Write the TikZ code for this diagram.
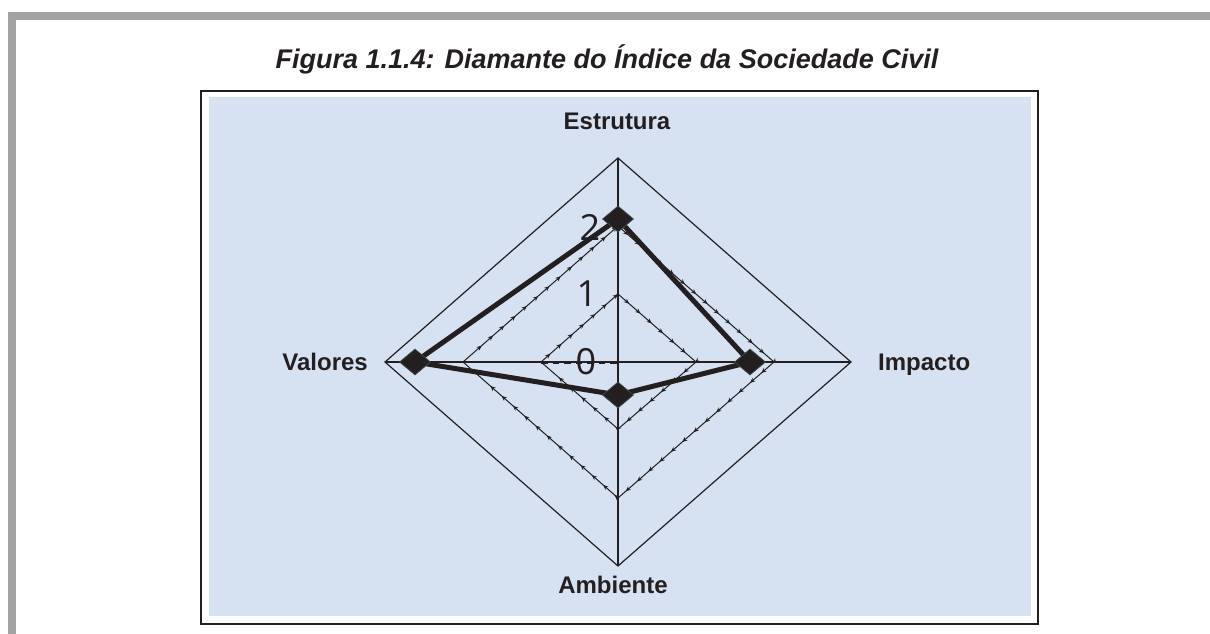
\documentclass[tikz,border=0pt]{standalone}
\usepackage{fontspec}
\setmainfont{Liberation Sans}
\newfontfamily\digitfont{Open Sans}
\usetikzlibrary{decorations.markings,arrows.meta,shapes.geometric}
\definecolor{ink}{HTML}{231F20}
\definecolor{framegray}{HTML}{A3A3A3}
\definecolor{panelblue}{HTML}{D6E1F1}
\definecolor{markedge}{HTML}{3A4744}
\begin{document}
\begin{tikzpicture}[x=1pt,y=-1pt,
  gridline/.style={draw=ink, line width=1.2pt},
  levelline/.style={draw=ink, line width=1pt, postaction={decorate},
    decoration={markings, mark=between positions 0.03 and 0.97 step 15pt with {\arrow{Stealth[length=5pt,width=4.5pt]}}}},
  axislabel/.style={font=\bfseries\fontsize{24}{28}\selectfont, text=ink, inner sep=0pt},
  numlabel/.style={font=\digitfont\fontsize{36}{40}\selectfont, text=ink, inner sep=0pt},
  datamark/.style={diamond, draw=markedge, fill=ink, line width=0.8pt, minimum width=31pt, minimum height=26pt, inner sep=0pt},
  datapoly/.style={draw=ink, line width=5pt, line join=round},
  zeroline/.style={draw=ink, line width=3pt, dash pattern=on 6.5pt off 5pt}
]
\useasboundingbox (0,0) rectangle (1210,634);
% frame
\fill[framegray] (8,12) rectangle (1210,20);
\fill[framegray] (8,12) rectangle (16,634);
% title
\node[font=\bfseries\itshape\fontsize{27}{32}\selectfont, text=ink, anchor=base, inner sep=0pt] (title) at (607,69) {Figura 1.1.4: Diamante do Índice da Sociedade Civil};
% box
\draw[ink, line width=2pt] (201,91) rectangle (1038,623.5);
\fill[panelblue] (209,97) rectangle (1031,616);
% grid coordinates
\coordinate (oL) at (385,362);
\coordinate (oT) at (618,158);
\coordinate (oR) at (851,362);
\coordinate (oB) at (618,566);
\coordinate (bL) at (463,362);
\coordinate (bT) at (618,226);
\coordinate (bR) at (774,362);
\coordinate (bB) at (618,498);
\coordinate (aL) at (541,362);
\coordinate (aT) at (618,294);
\coordinate (aR) at (696,362);
\coordinate (aB) at (618,429);
\coordinate (ctr) at (618,362);
% outer diamond and axes
\draw[gridline] (oL) -- (oT) -- (oR) -- (oB) -- cycle;
\draw[gridline] (oL) -- (oR);
\draw[gridline] (oT) -- (oB);
% level lines
\draw[levelline] (bL) -- (bT) -- (bR) -- (bB) -- cycle;
\draw[levelline] (aL) -- (aT) -- (aR) -- (aB) -- cycle;
\draw[zeroline] (aL) -- (ctr);
% scale numbers
\node[numlabel] (n2) at (590,227) {2};
\node[numlabel] (n1) at (587,294) {1};
\node[numlabel] (n0) at (586,362) {0};
% axis labels
\node[axislabel, anchor=base] (lE) at (617,129) {Estrutura};
\node[axislabel, anchor=base west] (lI) at (878,370.5) {Impacto};
\node[axislabel, anchor=base east] (lV) at (368,370.5) {Valores};
\node[axislabel, anchor=base] (lA) at (613,593) {Ambiente};
% data
\coordinate (pE) at (618,219);
\coordinate (pI) at (750,362);
\coordinate (pA) at (618,395);
\coordinate (pV) at (415,362);
\draw[datapoly] (pE) -- (pI) -- (pA) -- (pV) -- cycle;
\node[datamark] (mE) at (pE) {};
\node[datamark] (mI) at (pI) {};
\node[datamark] (mA) at (pA) {};
\node[datamark] (mV) at (pV) {};
\end{tikzpicture}
\end{document}
